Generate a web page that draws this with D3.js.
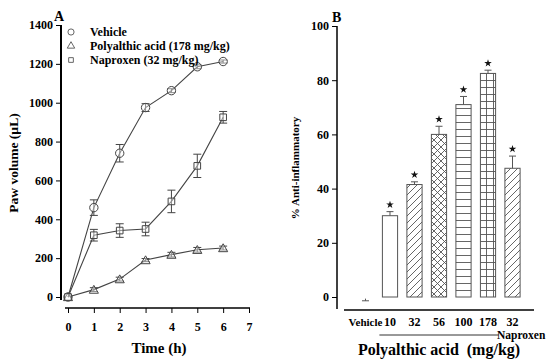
<!DOCTYPE html>
<html><head><meta charset="utf-8">
<script src="https://cdn.jsdelivr.net/npm/d3@7"></script>
<style>body{margin:0;background:#fff}svg{font-family:"Liberation Serif","Times New Roman",serif;font-weight:bold}</style>
</head><body>
<svg id="c" width="550" height="364"></svg>
<script>
// ---- Panel A data ----
const times = [0,1,2,3,4,5,6];
const vehicleMean = [0,460,740,975,1062,1185,1212];
const vehicleErr  = [0,40,45,20,10,10,8];
const polyMean = [0,38,92,190,218,243,252];
const polyErr  = [0,10,10,8,12,12,10];
const naproxenMean = [0,318,342,350,492,675,925];
const naproxenErr  = [0,30,35,35,58,60,30];
const legendLabels = ["Vehicle","Polyalthic acid (178 mg/kg)","Naproxen (32 mg/kg)"];
const yTicksA = [0,200,400,600,800,1000,1200,1400];
const xTicksA = [0,1,2,3,4,5,6,7];
// ---- Panel B data ----
const groups = ["Vehicle","10","32","56","100","178","32"];
const inhibition = [-0.6,30,41.5,60,71,82.5,47.5];
const inhibitionErr = [0.8,1.5,1,3,3,1.2,4.5];
const significant = [false,true,true,true,true,true,true];
const patterns = ["none","none","diag","cross","hlines","grid","diag"];
const yTicksB = [0,20,40,60,80,100];

const svg = d3.select("#c");
const line = "#444";
const fmt = d3.format("d");
function styleTicks(g){
  g.selectAll("text").style("font-size","12px").style("font-family","Liberation Serif").style("font-weight","bold").attr("fill","#000");
}

// ===== Panel A =====
const xA = d3.scaleLinear().domain([0,7]).range([68,249]);
const yA = d3.scaleLinear().domain([0,1400]).range([297,25]);

const gA = svg.append("g");
const gy = gA.append("g").attr("transform","translate(61,0)")
  .call(d3.axisLeft(yA).tickValues(yTicksA).tickFormat(fmt).tickSize(5).tickPadding(3));
gy.select(".domain").attr("d","M0,25V300").attr("stroke-width",2);
styleTicks(gy);
const gx = gA.append("g").attr("transform","translate(0,308)")
  .call(d3.axisBottom(xA).tickValues(xTicksA).tickFormat(fmt).tickSize(5).tickPadding(9));
gx.select(".domain").attr("d","M65,0H250").attr("stroke-width",1.5);
styleTicks(gx);

gA.append("text").attr("x",159).attr("y",353).attr("text-anchor","middle").style("font-size","15px").text("Time (h)");
gA.append("text").attr("transform","translate(18,163) rotate(-90)").attr("text-anchor","middle").style("font-size","13.5px").text("Paw volume (µL)");
gA.append("text").attr("x",54).attr("y",21).style("font-size","14px").text("A");

const series = [
  {m:vehicleMean,e:vehicleErr,shape:"circle"},
  {m:polyMean,e:polyErr,shape:"triangle"},
  {m:naproxenMean,e:naproxenErr,shape:"square"}
];
const symGen = {circle:d3.symbol(d3.symbolCircle,55), triangle:d3.symbol(d3.symbolTriangle,36), square:d3.symbol(d3.symbolSquare,44)};
const lineGen = d3.line().x((d,i)=>xA(times[i])).y(d=>yA(d));
series.forEach(s=>{
  gA.append("path").attr("d",lineGen(s.m)).attr("fill","none").attr("stroke",line).attr("stroke-width",1.1);
  s.m.forEach((v,i)=>{
    const x = xA(times[i]);
    if(s.e[i]>0){
      const y1=yA(v+s.e[i]), y2=yA(v-s.e[i]);
      gA.append("line").attr("x1",x).attr("x2",x).attr("y1",y1).attr("y2",y2).attr("stroke",line);
      gA.append("line").attr("x1",x-4).attr("x2",x+4).attr("y1",y1).attr("y2",y1).attr("stroke",line);
      gA.append("line").attr("x1",x-4).attr("x2",x+4).attr("y1",y2).attr("y2",y2).attr("stroke",line);
    }
    gA.append("path").attr("d",symGen[s.shape]()).attr("transform",`translate(${x},${yA(v)+(s.shape==="triangle"?1:0)})`)
      .attr("fill","#fff").attr("fill-opacity",0.4).attr("stroke",line).attr("stroke-width",1);
  });
});
const legY=[32,46,60];
["circle","triangle","square"].forEach((sh,i)=>{
  gA.append("path").attr("d",d3.symbol(sh==="circle"?d3.symbolCircle:sh==="triangle"?d3.symbolTriangle:d3.symbolSquare, sh==="circle"?30:sh==="triangle"?24:22)())
    .attr("transform",`translate(71,${legY[i]})`).attr("fill","#fff").attr("stroke","#555").attr("stroke-width",0.9);
  gA.append("text").attr("x",90).attr("y",legY[i]+4).style("font-size","12px").text(legendLabels[i]);
});

// ===== Panel B =====
const xB = d3.scaleBand().domain(d3.range(groups.length)).range([353,525]).paddingInner(0.38).paddingOuter(0.2);
const yB = d3.scaleLinear().domain([0,100]).range([297,26]);
const gB = svg.append("g");
const defs = svg.append("defs");
function pat(id, draw){
  const p = defs.append("pattern").attr("id",id).attr("patternUnits","userSpaceOnUse").attr("width",7).attr("height",7);
  p.append("rect").attr("width",7).attr("height",7).attr("fill","#fff");
  draw(p);
}
pat("diag",p=>{p.append("path").attr("d","M-1,8L8,-1M-1,1L1,-1M6,8L8,6").attr("stroke","#555").attr("stroke-width",0.9);});
pat("cross",p=>{p.append("path").attr("d","M-1,8L8,-1M-1,-1L8,8").attr("stroke","#555").attr("stroke-width",0.9);});
pat("hlines",p=>{p.append("path").attr("d","M0,3.5H7").attr("stroke","#555").attr("stroke-width",0.9);});
pat("grid",p=>{p.append("path").attr("d","M0,3.5H7M3.5,0V7").attr("stroke","#555").attr("stroke-width",0.9);});

const gyB = gB.append("g").attr("transform","translate(337,0)")
  .call(d3.axisLeft(yB).tickValues(yTicksB).tickFormat(fmt).tickSize(5).tickPadding(3));
gyB.select(".domain").attr("d","M0,26V309").attr("stroke-width",1.5);
styleTicks(gyB);
gB.append("line").attr("x1",344).attr("x2",534).attr("y1",310).attr("y2",310).attr("stroke","#000").attr("stroke-width",1.5);

const star = d3.symbol(d3.symbolStar, 18);
groups.forEach((g,i)=>{
  const x = xB(i), w = xB.bandwidth(), cx = x+w/2, v = inhibition[i], e = inhibitionErr[i];
  if(i>0){
    gB.append("rect").attr("x",x).attr("y",yB(Math.max(v,0))).attr("width",w).attr("height",Math.abs(yB(v)-yB(0)))
      .attr("fill",patterns[i]==="none"?"#fff":`url(#${patterns[i]})`).attr("stroke","#555").attr("stroke-width",1);
  }
  const ye = v>=0 ? yB(v+e) : yB(v-e);
  gB.append("line").attr("x1",cx).attr("x2",cx).attr("y1",yB(v)).attr("y2",ye).attr("stroke","#555");
  gB.append("line").attr("x1",cx-3.5).attr("x2",cx+3.5).attr("y1",ye).attr("y2",ye).attr("stroke","#555");
  if(significant[i]) gB.append("path").attr("d",star()).attr("transform",`translate(${cx},${ye-7})`).attr("fill","#111");
  gB.append("text").attr("x",cx).attr("y",326).attr("text-anchor","middle").style("font-size",i===0?"11px":"12px").text(g);
});
gB.append("line").attr("x1",xB(1)-3).attr("x2",xB(5)+xB.bandwidth()+3).attr("y1",335).attr("y2",335).attr("stroke","#333");
gB.append("text").attr("x",497).attr("y",339).style("font-size","11.5px").text("Naproxen");
gB.append("text").attr("x",439).attr("y",355).attr("text-anchor","middle").style("font-size","16px").text("Polyalthic acid\u00a0 (mg/kg)");
gB.append("text").attr("transform","translate(299,168) rotate(-90)").attr("text-anchor","middle").style("font-size","11px").text("% Anti-inflammatory");
gB.append("text").attr("x",332).attr("y",22).style("font-size","14px").text("B");
</script>
</body></html>
